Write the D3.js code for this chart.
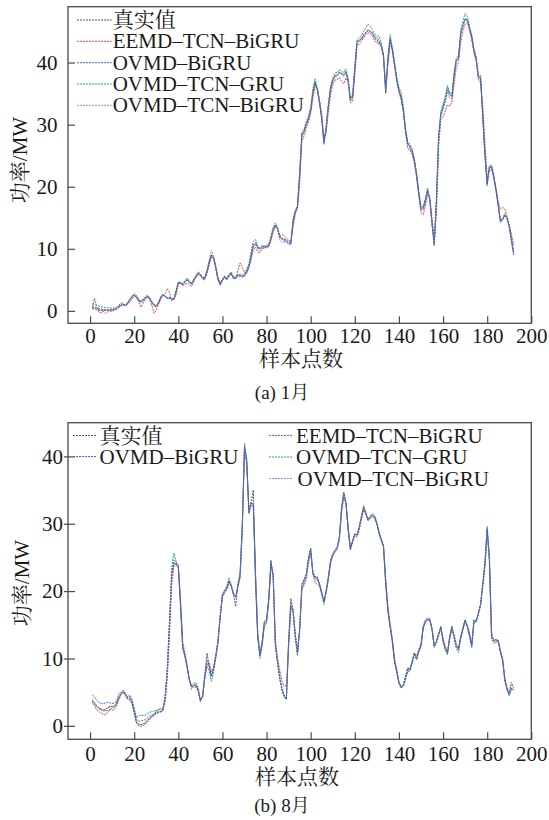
<!DOCTYPE html>
<html>
<head>
<meta charset="utf-8">
<script src="https://cdn.jsdelivr.net/npm/d3@7"></script>
<style>
  html, body { margin: 0; padding: 0; background: #fff; }
  svg { display: block; }
  text { font-family: "Liberation Serif", "Times New Roman", "Noto Serif CJK SC", "Noto Sans CJK SC", serif; fill: #1a1a1a; }
</style>
</head>
<body>
<svg id="chart" width="549" height="820"></svg>
<script>
// sample index on the horizontal axis
const sampleIndex = d3.range(1, 193);

const seriesNames = ["真实值", "EEMD–TCN–BiGRU", "OVMD–BiGRU", "OVMD–TCN–GRU", "OVMD–TCN–BiGRU"];
const seriesColors = ["#555555", "#e2474d", "#3b6fd4", "#2fa36b", "#b07be0"];

const xTicks = [0, 20, 40, 60, 80, 100, 120, 140, 160, 180, 200];
const yTicks = [0, 10, 20, 30, 40];

const xLabel = "样本点数";
const yLabel = "功率/MW";
const captions = ["(a) 1月", "(b) 8月"];

// ---- January: measured power and the four forecasts (MW) ----
const janActual = [
  0.3,0.4,0.2,0.1,0.1,0.0,0.1,0.1,0.1,0.1,
  0.2,0.3,0.6,0.9,1.0,0.8,1.3,1.8,2.3,2.6,
  2.2,1.6,1.4,1.7,2.1,2.4,2.0,1.3,0.8,0.7,
  1.3,2.2,2.6,2.3,2.0,2.1,1.9,1.8,3.2,4.6,
  4.4,4.2,4.7,5.1,4.6,4.3,5.0,5.5,6.0,5.7,
  5.3,5.2,6.4,7.8,9.0,8.4,6.8,5.0,4.2,5.0,
  5.5,5.0,5.8,6.0,5.2,5.3,5.8,5.7,5.6,5.8,
  6.5,7.2,9.0,10.6,11.0,10.2,10.0,10.4,10.3,10.4,
  10.5,11.8,13.2,13.9,13.2,11.8,11.6,11.5,11.3,11.0,
  10.8,14.5,16.0,16.8,22.0,28.5,29.0,30.2,31.0,32.4,
  35.2,36.9,35.6,33.5,31.0,27.0,29.5,33.0,35.9,37.2,
  37.9,38.0,38.5,38.2,38.0,38.6,37.0,34.0,34.5,39.0,
  43.4,43.6,43.9,44.5,44.9,45.3,45.0,44.8,44.2,43.9,
  43.6,42.8,41.0,35.1,40.5,43.9,42.0,39.5,37.2,35.5,
  34.5,32.4,29.0,27.0,26.5,25.8,24.3,22.0,19.0,16.6,
  16.5,17.9,19.5,17.9,14.0,10.6,17.9,28.0,31.8,32.9,
  34.0,35.6,34.8,34.5,38.0,40.4,40.7,44.7,46.0,47.1,
  46.9,45.5,44.2,42.0,40.7,37.7,37.5,31.3,25.0,20.3,
  23.2,23.2,21.5,19.5,17.0,14.4,14.7,15.5,15.0,13.6,
  11.5,9.3
];
const janEEMD = [
  0.6,2.0,0.8,-0.2,-0.3,-0.1,-0.4,-0.2,0.0,-0.1,
  0.1,0.4,0.9,1.3,1.2,0.9,1.0,1.4,1.9,2.3,
  2.4,1.5,0.6,1.2,1.8,2.2,1.8,0.9,-0.4,0.2,
  1.0,1.9,2.4,2.8,3.6,3.0,1.6,1.9,2.6,4.2,
  4.6,4.0,4.3,4.5,4.2,4.0,4.6,5.7,6.3,6.0,
  5.1,5.0,6.0,7.4,8.7,8.6,7.2,5.4,4.6,4.8,
  5.6,5.3,5.5,6.2,5.5,5.1,6.5,7.7,7.0,6.2,
  6.0,7.0,8.2,9.8,10.3,9.5,9.4,10.0,10.1,10.2,
  10.3,11.3,12.7,13.5,13.4,12.0,12.3,12.1,11.7,11.4,
  11.2,13.5,15.6,16.5,20.5,27.3,28.2,29.4,30.4,31.8,
  34.2,36.2,35.8,34.0,31.8,27.8,28.6,32.0,34.8,36.4,
  37.2,37.2,37.6,37.0,36.6,37.5,36.8,33.5,33.8,37.8,
  42.6,43.0,43.4,44.0,44.5,44.8,44.6,44.3,43.5,43.2,
  43.0,42.5,41.2,36.2,39.6,42.8,42.4,40.0,37.5,35.3,
  34.0,32.0,28.8,26.2,25.8,25.2,23.8,21.6,18.6,15.8,
  15.5,16.8,18.8,18.4,15.0,11.6,15.5,26.5,30.8,31.2,
  32.2,33.2,33.0,33.6,36.5,39.2,40.0,43.2,45.2,46.2,
  46.3,45.2,43.6,41.5,40.2,37.2,36.8,33.0,27.0,21.5,
  22.6,22.8,21.6,19.8,17.6,16.4,16.7,16.4,15.2,13.8,
  12.4,10.6
];
const janOVMDBiGRU = [
  0.6,0.7,0.5,0.4,0.3,0.2,0.2,0.2,0.2,0.2,
  0.3,0.4,0.6,0.8,1.0,0.9,1.2,1.7,2.2,2.5,
  2.3,1.8,1.5,1.6,2.0,2.3,2.1,1.5,1.0,0.8,
  1.2,2.0,2.5,2.4,2.1,2.0,2.0,1.9,3.0,4.4,
  4.5,4.3,4.6,5.0,4.7,4.4,4.9,5.4,5.9,5.8,
  5.4,5.2,6.2,7.6,8.8,8.5,7.0,5.2,4.4,4.9,
  5.4,5.1,5.7,5.9,5.3,5.2,5.6,5.6,5.5,5.6,
  6.2,7.0,8.7,10.3,10.8,10.3,10.0,10.3,10.3,10.3,
  10.4,11.6,13.0,13.7,13.3,12.0,11.5,11.3,11.2,11.0,
  10.9,14.0,15.8,16.7,21.5,28.0,28.8,30.0,30.9,32.2,
  35.0,36.6,35.8,33.8,31.2,27.3,29.2,32.8,35.6,37.0,
  37.8,38.0,38.4,38.3,38.0,38.4,37.2,34.2,34.5,38.8,
  43.2,43.5,43.8,44.4,44.8,45.2,45.1,44.7,44.0,43.6,
  43.3,42.6,41.0,35.6,40.2,43.6,42.2,39.8,37.4,35.6,
  34.4,32.3,29.0,27.0,26.4,25.6,24.2,21.8,18.8,16.4,
  16.6,17.6,19.3,18.0,14.2,10.8,17.5,27.6,31.5,32.7,
  33.9,36.0,35.0,34.6,37.8,40.2,40.8,44.5,46.0,47.0,
  46.8,45.6,44.0,42.0,40.6,37.8,37.6,31.6,25.2,20.6,
  23.0,23.3,21.6,19.4,17.0,14.6,14.8,15.3,14.8,13.4,
  11.2,9.0
];
const janOVMDTCNGRU = [
  1.1,1.0,0.9,0.8,0.7,0.6,0.5,0.5,0.5,0.4,
  0.5,0.6,0.8,1.0,1.1,1.0,1.4,1.9,2.4,2.8,
  2.5,1.9,1.6,1.9,2.3,2.5,2.2,1.5,1.0,0.9,
  1.4,2.3,2.7,2.4,2.1,2.2,2.0,1.9,3.3,4.7,
  4.6,4.4,4.9,5.3,4.8,4.5,5.1,5.6,6.1,5.9,
  5.5,5.3,6.5,7.9,9.1,8.6,7.0,5.1,4.4,5.2,
  5.6,5.2,6.0,6.2,5.4,5.5,5.9,5.9,5.8,6.0,
  6.8,7.6,9.5,11.2,11.5,10.4,10.2,10.6,10.5,10.6,
  10.7,12.0,13.5,14.2,13.4,12.0,11.7,11.6,11.4,11.1,
  11.0,14.8,16.2,17.0,22.4,28.8,29.3,30.5,31.4,32.8,
  35.8,37.4,36.0,33.8,31.2,27.2,29.8,33.4,36.2,37.6,
  38.3,38.4,38.9,38.6,38.4,39.0,37.4,34.3,34.9,39.4,
  43.7,44.0,44.4,45.0,45.6,46.2,45.8,45.3,44.6,44.3,
  44.2,43.2,41.4,35.6,41.0,44.5,42.6,40.0,37.6,36.0,
  35.2,33.0,29.4,27.3,26.8,26.1,24.6,22.3,19.3,16.9,
  16.8,18.2,19.8,18.1,14.2,10.9,18.2,28.3,32.1,33.3,
  34.5,36.3,35.2,34.9,38.4,40.8,41.1,45.2,46.7,47.9,
  47.4,45.9,44.5,42.3,41.0,38.0,38.0,31.6,25.3,20.6,
  23.4,23.5,21.8,19.7,17.2,14.6,14.9,15.7,15.2,13.8,
  11.7,9.5
];
const janOVMDTCNBiGRU = [
  0.4,0.5,0.3,0.2,0.1,0.1,0.1,0.1,0.1,0.2,
  0.2,0.3,0.5,0.8,1.0,0.9,1.2,1.7,2.2,2.6,
  2.3,1.7,1.4,1.6,2.0,2.4,2.1,1.4,0.9,0.7,
  1.2,2.1,2.6,2.4,2.0,2.0,1.9,1.8,3.1,4.5,
  4.5,4.2,4.6,5.0,4.6,4.3,4.9,5.4,5.9,5.7,
  5.3,5.3,6.6,8.2,9.8,8.9,7.0,4.9,4.1,4.9,
  5.4,5.0,5.7,5.9,5.2,5.2,5.7,5.6,5.4,5.5,
  6.3,7.1,8.8,10.4,10.8,10.0,9.8,10.2,10.2,10.3,
  10.4,11.6,13.0,13.8,13.0,11.4,11.0,11.1,11.0,10.7,
  10.6,14.2,15.8,16.6,21.6,28.2,28.9,30.0,30.8,32.2,
  35.0,36.7,35.5,33.3,30.8,26.8,29.3,32.8,35.7,37.0,
  37.7,37.8,38.3,38.0,37.8,38.4,36.8,33.8,34.3,38.8,
  43.2,43.4,43.7,44.3,44.7,45.1,44.8,44.5,43.8,43.4,
  43.2,42.5,40.8,35.0,40.3,43.7,41.8,39.3,37.0,35.2,
  34.2,32.0,28.6,26.4,26.0,25.4,24.0,21.7,18.7,16.3,
  16.2,17.6,19.3,17.7,13.8,10.5,17.6,27.8,31.4,32.4,
  33.6,35.2,34.3,34.1,37.7,40.2,40.5,44.4,45.8,46.9,
  46.7,45.3,44.0,41.8,40.5,37.5,37.3,31.0,24.8,20.1,
  23.0,23.0,21.3,19.3,16.8,14.2,14.5,15.3,14.8,13.4,
  11.3,9.1
];

// ---- August: measured power and the four forecasts (MW) ----
const augActual = [
  3.9,3.5,3.0,2.7,2.5,2.4,2.4,2.7,2.9,2.9,
  2.9,3.2,4.1,4.8,5.3,4.8,4.1,4.3,3.6,2.2,
  0.6,0.2,0.1,0.3,0.4,0.8,1.2,1.4,1.6,1.9,
  2.0,2.1,2.2,4.0,8.0,15.0,22.5,24.2,24.0,23.8,
  18.0,11.6,10.5,8.8,6.8,5.8,6.0,6.1,5.3,3.6,
  4.5,7.5,10.8,8.8,7.3,8.6,10.5,12.7,16.5,19.5,
  20.1,20.6,21.6,20.6,19.5,17.7,21.1,22.6,30.0,41.9,
  39.4,31.5,33.0,35.0,21.0,13.0,10.5,12.5,15.5,15.8,
  19.0,24.6,22.1,11.8,9.5,7.0,5.5,4.5,3.9,12.7,
  18.9,17.2,13.5,10.8,14.5,21.0,21.8,22.5,25.0,26.4,
  22.6,22.1,22.1,21.1,19.8,18.4,20.0,22.1,24.6,25.5,
  26.1,26.5,28.0,32.5,34.7,33.0,29.0,26.1,27.5,28.5,
  28.3,29.5,31.0,32.5,31.5,30.5,31.0,31.3,31.0,30.0,
  28.5,27.5,26.6,21.0,17.0,14.7,12.5,9.5,8.0,6.3,
  5.6,6.0,7.3,8.5,8.3,9.5,10.8,9.8,11.0,11.8,
  14.7,15.5,15.7,15.7,14.2,11.8,12.5,13.7,14.7,12.7,
  11.5,10.8,13.2,14.7,13.2,11.8,11.3,13.2,14.5,15.7,
  14.7,13.5,11.8,15.7,15.5,16.7,18.0,21.0,24.1,29.3,
  24.6,13.2,12.7,12.7,12.7,11.0,9.8,6.8,5.5,4.6,
  5.6,5.3
];
const augEEMD = [
  3.6,3.0,2.4,2.1,1.9,1.7,1.6,2.0,2.4,2.6,
  2.8,3.6,4.8,5.0,4.9,4.5,4.0,3.8,3.3,1.8,
  0.4,0.0,-0.1,0.0,0.2,0.5,0.9,1.3,1.7,2.2,
  2.4,2.6,2.4,3.5,7.0,13.5,21.0,23.6,24.2,23.6,
  19.0,12.5,10.8,9.0,6.8,5.4,5.8,5.7,5.1,3.8,
  4.2,7.0,9.5,9.4,8.0,8.6,10.2,12.4,16.0,19.0,
  19.8,20.3,21.2,20.9,19.7,19.0,20.5,22.0,28.8,40.5,
  39.0,32.0,33.0,33.0,23.0,14.0,10.8,12.0,14.8,15.2,
  18.5,23.8,22.6,12.8,10.0,8.2,6.6,5.9,6.0,11.8,
  17.5,17.0,13.8,11.2,14.0,20.2,21.2,22.0,24.2,25.6,
  22.8,21.2,21.0,20.8,19.5,18.6,19.6,21.6,24.0,25.2,
  25.8,26.2,27.5,31.5,33.8,33.0,29.5,26.5,27.2,28.2,
  28.0,29.0,30.6,32.0,31.4,30.5,30.8,31.0,30.8,30.0,
  28.8,27.8,26.8,22.0,17.8,15.2,13.0,10.0,8.4,6.6,
  5.8,6.0,7.0,8.2,8.4,9.6,10.8,10.4,11.4,12.2,
  14.4,15.4,15.8,15.8,14.6,12.2,12.4,13.5,14.4,13.0,
  11.8,11.0,12.8,14.4,13.6,12.2,11.6,13.0,14.2,15.5,
  15.0,13.8,12.2,15.2,15.6,16.5,17.8,20.5,23.5,28.5,
  25.5,14.0,12.5,12.4,12.5,11.2,10.0,7.2,5.6,5.2,
  6.5,5.6
];
const augOVMDBiGRU = [
  4.6,4.3,3.8,3.5,3.3,3.3,3.4,3.5,3.4,3.3,
  3.4,3.6,4.2,4.7,5.0,4.7,4.3,4.6,4.0,2.6,
  1.0,0.7,0.7,0.8,0.9,1.2,1.5,1.6,1.8,2.0,
  2.1,2.2,2.4,4.2,8.2,14.8,22.2,24.6,24.3,23.8,
  18.2,11.8,10.4,8.8,6.9,5.9,5.9,6.0,5.4,3.7,
  4.4,7.4,9.2,8.8,7.4,8.5,10.4,12.6,16.4,19.4,
  20.0,20.5,21.5,20.8,19.6,19.2,20.8,22.4,29.6,41.3,
  39.6,32.0,33.2,32.6,22.0,13.2,10.4,12.4,15.2,15.6,
  18.8,24.2,22.4,12.0,9.2,7.0,5.2,4.2,4.0,12.2,
  17.8,17.2,13.4,10.8,14.2,20.8,21.6,22.4,24.8,26.2,
  22.8,22.0,21.8,21.0,19.8,18.5,20.0,22.0,24.4,25.4,
  26.0,26.5,28.0,32.2,34.5,33.2,29.2,26.3,27.4,28.4,
  28.3,29.4,30.9,32.3,31.5,30.6,31.0,31.2,31.0,30.0,
  28.6,27.6,26.6,21.4,17.2,14.8,12.6,9.6,8.0,6.4,
  5.7,6.1,7.4,8.6,8.4,9.6,10.8,9.9,11.1,11.9,
  14.6,15.5,15.7,15.7,14.3,11.9,12.5,13.7,14.7,12.8,
  11.6,10.9,13.2,14.7,13.3,11.9,11.4,13.2,14.5,15.7,
  14.8,13.6,12.0,15.6,15.5,16.7,18.0,21.0,24.0,29.2,
  24.8,13.3,12.8,12.8,12.7,11.0,9.8,6.9,5.4,4.5,
  5.5,5.4
];
const augOVMDTCNGRU = [
  3.7,3.3,2.8,2.6,2.4,2.3,2.2,2.3,2.4,2.3,
  2.4,2.9,3.8,4.6,5.1,4.7,4.0,4.0,3.4,2.4,
  1.2,1.5,1.6,1.5,1.6,1.8,2.0,2.1,2.2,2.3,
  2.4,2.5,2.5,4.3,8.5,15.8,23.5,25.6,24.4,23.5,
  17.5,11.4,10.2,8.6,6.9,6.0,6.3,6.4,5.6,3.9,
  4.3,7.0,8.8,8.2,6.6,8.0,10.0,12.4,16.2,19.2,
  19.8,20.2,21.3,20.7,19.5,19.2,20.6,22.0,29.2,41.0,
  39.2,31.8,32.8,32.4,22.4,13.6,10.0,11.8,14.8,15.4,
  18.6,24.0,22.0,12.0,9.4,7.2,5.4,4.4,4.2,12.0,
  17.6,17.0,13.0,10.4,14.0,20.2,20.8,21.8,24.4,25.8,
  22.4,21.8,21.6,21.0,19.5,18.0,19.8,21.8,24.2,25.2,
  25.8,26.2,27.8,32.0,34.2,33.0,29.3,26.4,27.4,28.5,
  28.4,29.6,31.2,32.7,31.7,30.7,31.2,31.5,31.2,30.2,
  28.8,27.8,26.8,21.6,17.4,15.0,12.8,9.8,8.2,6.5,
  5.8,5.8,6.8,8.0,8.1,9.2,10.5,10.0,11.0,11.8,
  14.6,15.6,15.9,15.9,14.4,11.6,12.2,13.4,14.6,12.4,
  11.2,10.5,12.8,14.5,13.0,11.4,10.9,12.9,14.3,15.5,
  14.6,13.2,11.6,15.2,15.4,16.6,18.0,21.2,24.5,29.6,
  25.0,12.8,12.2,12.4,12.5,10.9,9.7,6.6,5.6,4.9,
  6.0,5.9
];
const augOVMDTCNBiGRU = [
  3.4,3.1,2.8,2.5,2.3,2.2,2.3,2.6,2.8,2.8,
  2.8,3.1,4.0,4.6,5.1,4.7,4.0,4.1,3.4,2.0,
  0.6,0.3,0.2,0.3,0.5,0.8,1.1,1.3,1.5,1.8,
  1.9,2.0,2.3,4.1,8.2,15.0,22.3,24.0,23.8,23.6,
  18.3,11.7,10.4,8.7,6.8,5.8,6.0,6.1,5.3,3.7,
  4.4,7.3,9.8,8.8,7.3,8.6,10.5,12.6,16.4,19.5,
  20.2,20.8,22.0,21.0,19.6,19.0,21.0,22.5,29.8,41.4,
  39.2,31.6,33.2,32.8,22.2,13.4,10.6,12.4,15.4,15.8,
  18.9,24.3,22.2,12.2,9.6,7.2,5.6,4.5,4.1,12.4,
  18.2,17.3,13.6,11.0,14.4,20.8,21.6,22.4,24.8,26.3,
  22.7,22.2,22.0,21.1,19.8,18.4,20.0,22.1,24.5,25.4,
  26.0,26.4,28.0,32.4,34.6,33.0,29.1,26.2,27.5,28.5,
  28.3,29.5,31.0,32.4,31.5,30.5,31.0,31.3,31.0,30.0,
  28.5,27.5,26.5,21.0,17.0,14.7,12.5,9.6,8.0,6.3,
  5.6,6.1,7.4,8.6,8.4,9.6,10.9,9.9,11.1,11.9,
  14.8,15.8,16.0,15.9,14.3,11.8,12.5,13.7,14.8,12.8,
  11.5,10.8,13.3,14.8,13.2,11.8,11.3,13.3,14.6,15.8,
  14.8,13.5,11.9,15.8,15.5,16.8,18.1,21.0,24.0,29.0,
  24.5,13.2,12.7,12.7,12.6,11.0,9.7,6.8,5.3,4.5,
  5.4,5.3
];

// ---------------------------------------------------------------
const svg = d3.select("#chart");
const frameColor = "#4a4a4a";
const plotLeft = 68, plotRight = 531.3;
// paint order: forecasts first, measured and OVMD-BiGRU last
const paintOrder = [1, 3, 4, 0, 2];

function drawPanel(p) {
  const x = d3.scaleLinear().domain([-10, 200]).range([plotLeft, plotRight]);
  const y = d3.scaleLinear().domain(p.yDomain).range([p.bottom, p.top]);
  const g = svg.append("g");

  const line = d3.line()
    .x((d, i) => x(sampleIndex[i]))
    .y(d => y(d));

  paintOrder.forEach(k => {
    g.append("path")
      .attr("d", line(p.series[k]))
      .attr("fill", "none")
      .attr("stroke", seriesColors[k])
      .attr("stroke-width", 1)
      .attr("stroke-dasharray", "2,1");
  });

  // axes with inward ticks
  const xa = g.append("g")
    .attr("transform", `translate(0,${p.bottom})`)
    .call(d3.axisBottom(x).tickValues(xTicks).tickSizeInner(-7).tickSizeOuter(0).tickPadding(p.xPad));
  const ya = g.append("g")
    .attr("transform", `translate(${plotLeft},0)`)
    .call(d3.axisLeft(y).tickValues(yTicks).tickSizeInner(-7).tickSizeOuter(0).tickPadding(p.yPad));
  [xa, ya].forEach(a => {
    a.select(".domain").remove();
    a.selectAll(".tick line").attr("stroke", frameColor).attr("stroke-width", 1.2);
    a.selectAll(".tick text").attr("font-size", 21).attr("fill", "#1a1a1a")
      .style("font-family", '"Liberation Serif", "Times New Roman", serif');
  });
  if (p.outerStub) {
    ya.selectAll(".tick").append("line")
      .attr("x1", -p.outerStub).attr("x2", 0)
      .attr("stroke", frameColor).attr("stroke-width", 1.2);
  }

  // frame
  g.append("rect")
    .attr("x", plotLeft).attr("y", p.top)
    .attr("width", plotRight - plotLeft).attr("height", p.bottom - p.top)
    .attr("fill", "none").attr("stroke", frameColor).attr("stroke-width", 1.3);

  // axis titles
  g.append("text")
    .attr("x", p.xTitleX).attr("y", p.bottom + p.xTitleGap)
    .attr("text-anchor", "middle").attr("font-size", 21)
    .text(xLabel);
  g.append("text")
    .attr("transform", `translate(${p.yTitleX},${p.yTitleY}) rotate(-90)`)
    .attr("text-anchor", "middle").attr("dy", "0.35em").attr("font-size", 21)
    .text(yLabel);

  // caption
  g.append("text")
    .attr("x", 282).attr("y", p.captionY)
    .attr("text-anchor", "middle").attr("font-size", 19)
    .text(p.caption);

  // legend
  p.legend.forEach(e => {
    g.append("line")
      .attr("x1", e.x1).attr("x2", e.x2).attr("y1", e.cy).attr("y2", e.cy)
      .attr("stroke", seriesColors[e.k]).attr("stroke-width", 1)
      .attr("stroke-dasharray", "2,1");
    g.append("text")
      .attr("x", e.tx).attr("y", e.cy).attr("dy", "0.34em")
      .attr("font-size", 21)
      .text(seriesNames[e.k]);
  });
}

drawPanel({
  top: 6.7, bottom: 323.3, yDomain: [-2, 49],
  series: [janActual, janEEMD, janOVMDBiGRU, janOVMDTCNGRU, janOVMDTCNBiGRU],
  xPad: 5, yPad: 10.5, outerStub: 0,
  xTitleX: 301, xTitleGap: 43, yTitleX: 20, yTitleY: 160,
  caption: captions[0], captionY: 399,
  legend: [
    { k: 0, x1: 77, x2: 111.7, tx: 112.7, cy: 20 },
    { k: 1, x1: 77, x2: 111.7, tx: 112.7, cy: 41.3 },
    { k: 2, x1: 77, x2: 111.7, tx: 112.7, cy: 62.7 },
    { k: 3, x1: 77, x2: 111.7, tx: 112.7, cy: 84 },
    { k: 4, x1: 77, x2: 111.7, tx: 112.7, cy: 105.3 }
  ]
});

drawPanel({
  top: 422.7, bottom: 739.3, yDomain: [-2, 45],
  series: [augActual, augEEMD, augOVMDBiGRU, augOVMDTCNGRU, augOVMDTCNBiGRU],
  xPad: 7, yPad: 5, outerStub: 4,
  xTitleX: 297, xTitleGap: 45, yTitleX: 21.7, yTitleY: 583,
  caption: captions[1], captionY: 812,
  legend: [
    { k: 0, x1: 73, x2: 97, tx: 99.5, cy: 435.5 },
    { k: 2, x1: 73, x2: 97, tx: 99.5, cy: 456.5 },
    { k: 1, x1: 269, x2: 292, tx: 296, cy: 435.5 },
    { k: 3, x1: 269, x2: 292, tx: 296, cy: 457 },
    { k: 4, x1: 269, x2: 293, tx: 297.5, cy: 478.5 }
  ]
});
</script>
</body>
</html>
